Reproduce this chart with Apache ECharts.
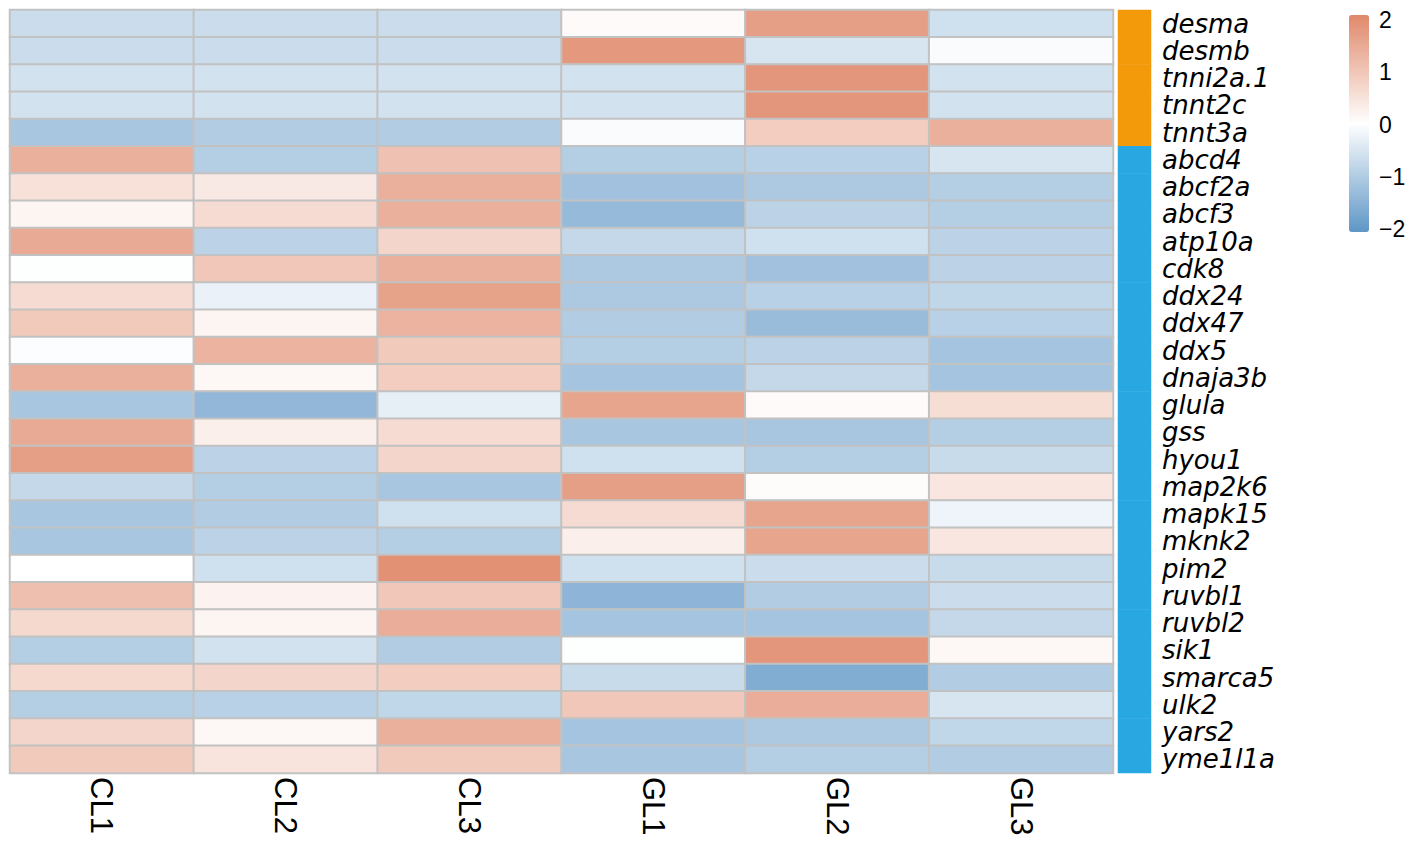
<!DOCTYPE html>
<html>
<head>
<meta charset="utf-8">
<script src="https://cdn.jsdelivr.net/npm/echarts@6/dist/echarts.min.js"></script>
<style>
html,body{margin:0;padding:0;background:#fff}
#main{width:1418px;height:846px}
</style>
</head>
<body>
<div id="main"></div>
<script>
// 样本（列）
var samples = ['CL1', 'CL2', 'CL3', 'GL1', 'GL2', 'GL3']
// 基因（行），从上到下
var genes = ['desma', 'desmb', 'tnni2a.1', 'tnnt2c', 'tnnt3a', 'abcd4', 'abcf2a', 'abcf3', 'atp10a', 'cdk8',
  'ddx24', 'ddx47', 'ddx5', 'dnaja3b', 'glula', 'gss', 'hyou1', 'map2k6', 'mapk15', 'mknk2',
  'pim2', 'ruvbl1', 'ruvbl2', 'sik1', 'smarca5', 'ulk2', 'yars2', 'yme1l1a']
// 行注释分组：0 = 前5个（橙色），1 = 其余（蓝色）
var geneGroup = [0, 0, 0, 0, 0, 1, 1, 1, 1, 1, 1, 1, 1, 1, 1, 1, 1, 1, 1, 1, 1, 1, 1, 1, 1, 1, 1, 1]

// 每个样本的标准化表达值，顺序同 genes
var CL1 = [-0.65, -0.65, -0.55, -0.55, -1.1, 1.4, 0.55, 0.2, 1.5, 0.0,
  0.65, 0.95, -0.02, 1.4, -1.1, 1.5, 1.7, -0.75, -1.1, -1.1,
  0.02, 1.15, 0.7, -0.95, 0.7, -0.95, 0.75, 0.95]
var CL2 = [-0.65, -0.65, -0.55, -0.55, -1.0, -0.95, 0.4, 0.65, -0.85, 1.0,
  -0.25, 0.2, 1.35, 0.15, -1.4, 0.3, -0.85, -0.95, -1.0, -0.85,
  -0.6, 0.25, 0.2, -0.55, 0.75, -0.9, 0.15, 0.5]
var CL3 = [-0.65, -0.65, -0.55, -0.55, -1.0, 1.1, 1.4, 1.4, 0.75, 1.4,
  1.65, 1.35, 0.95, 0.9, -0.3, 0.65, 0.75, -1.1, -0.6, -0.95,
  1.95, 1.0, 1.45, -1.0, 0.9, -0.8, 1.4, 0.95]
var GL1 = [0.1, 1.8, -0.55, -0.55, -0.05, -0.95, -1.2, -1.35, -0.75, -1.05,
  -1.05, -1.0, -0.95, -1.15, 1.6, -1.1, -0.6, 1.7, 0.65, 0.3,
  -0.6, -1.45, -1.15, 0.0, -0.7, 1.0, -1.15, -1.1]
var GL2 = [1.7, -0.5, 1.85, 1.85, 0.9, -0.9, -1.05, -0.85, -0.6, -1.2,
  -0.9, -1.3, -0.85, -0.75, 0.1, -1.1, -0.95, 0.08, 1.6, 1.6,
  -0.65, -1.0, -1.15, 1.85, -1.6, 1.45, -1.05, -0.95]
var GL3 = [-0.6, -0.05, -0.55, -0.55, 1.4, -0.5, -0.95, -0.95, -0.85, -0.85,
  -0.8, -0.9, -1.15, -1.15, 0.6, -0.95, -0.7, 0.45, -0.2, 0.45,
  -0.7, -0.65, -0.75, 0.15, -1.0, -0.5, -0.8, -1.0]

// 图例刻度
var legendTicks = [-2, -1, 0, 1, 2]

var columns = [CL1, CL2, CL3, GL1, GL2, GL3]
var groupColors = ['#f39a0a', '#29a7e1']

// 组装热图数据 [列, 行, 值]
var heatData = []
columns.forEach(function (col, j) {
  col.forEach(function (v, i) {
    heatData.push([j, i, v])
  })
})

// 注释条数据
var annoData = geneGroup.map(function (g, i) {
  return { value: [0, i, g], itemStyle: { color: groupColors[g] } }
})

var myChart = echarts.init(document.getElementById('main'), null, { renderer: 'svg' })

var option = {
  animation: false,
  backgroundColor: '#fff',
  grid: [
    // 主热图
    { left: 10, top: 10, width: 1103, height: 763 },
    // 行注释
    { left: 1118, top: 10, width: 33, height: 763 },
    // 图例刻度
    { left: 1369, top: 20, width: 1, height: 209 }
  ],
  xAxis: [
    {
      gridIndex: 0,
      type: 'category',
      data: samples,
      axisLine: { show: false },
      axisTick: { show: false },
      splitLine: { show: false },
      axisLabel: {
        rotate: -90,
        margin: 4,
        fontSize: 31,
        color: '#000',
        fontFamily: 'Liberation Sans'
      }
    },
    {
      gridIndex: 1,
      type: 'category',
      data: ['group'],
      show: false
    },
    {
      gridIndex: 2,
      type: 'value',
      show: false
    }
  ],
  yAxis: [
    {
      gridIndex: 0,
      type: 'category',
      data: genes,
      inverse: true,
      show: false
    },
    {
      gridIndex: 1,
      type: 'category',
      data: genes,
      inverse: true,
      position: 'right',
      axisLine: { show: false },
      axisTick: { show: false },
      splitLine: { show: false },
      axisLabel: {
        interval: 0,
        margin: 11,
        fontSize: 26,
        lineHeight: 24,
        fontStyle: 'italic',
        color: '#000',
        fontFamily: 'DejaVu Sans'
      }
    },
    {
      gridIndex: 2,
      type: 'value',
      min: legendTicks[0],
      max: legendTicks[legendTicks.length - 1],
      interval: 1,
      position: 'right',
      axisLine: { show: false },
      axisTick: { show: false },
      splitLine: { show: false },
      axisLabel: {
        margin: 9,
        fontSize: 23,
        color: '#000',
        fontFamily: 'Liberation Sans',
        formatter: function (v) {
          return v < 0 ? '\u2212' + Math.abs(v) : String(v)
        }
      }
    }
  ],
  visualMap: {
    type: 'continuous',
    seriesIndex: 0,
    min: -2.06,
    max: 2.1,
    calculable: false,
    hoverLink: false,
    left: 1349,
    top: 15,
    itemWidth: 20,
    itemHeight: 217,
    padding: 0,
    inRange: {
      color: ['#5f96c6', '#ffffff', '#e0886a']
    }
  },
  series: [
    {
      type: 'heatmap',
      xAxisIndex: 0,
      yAxisIndex: 0,
      data: heatData,
      itemStyle: {
        borderColor: '#c2c2c2',
        borderWidth: 2
      },
      emphasis: { disabled: true }
    },
    {
      type: 'heatmap',
      xAxisIndex: 1,
      yAxisIndex: 1,
      data: annoData,
      emphasis: { disabled: true }
    }
  ]
}

myChart.setOption(option)
</script>
</body>
</html>
